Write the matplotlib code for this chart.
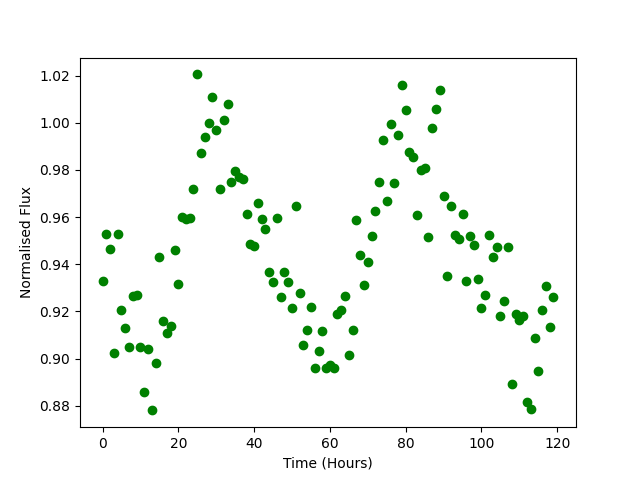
import matplotlib
matplotlib.use('Agg')
import matplotlib.pyplot as plt
import numpy as np

# hourly flux readings
time_hours = np.arange(120)
flux = [
    0.933, 0.953, 0.9465, 0.9025, 0.953, 0.9205, 0.9129, 0.905, 0.9265, 0.927,
    0.905, 0.886, 0.904, 0.878, 0.898, 0.943, 0.9159, 0.911, 0.914, 0.946,
    0.9315, 0.960, 0.959, 0.9595, 0.972, 1.0205, 0.987, 0.994, 1.000, 1.011,
    0.997, 0.972, 1.001, 1.008, 0.975, 0.9795, 0.977, 0.976, 0.9615, 0.9485,
    0.9477, 0.966, 0.959, 0.955, 0.9365, 0.9325, 0.9595, 0.926, 0.9367, 0.9325,
    0.9215, 0.9645, 0.928, 0.9057, 0.912, 0.922, 0.896, 0.903, 0.9117, 0.896,
    0.8973, 0.896, 0.919, 0.9206, 0.9265, 0.9016, 0.912, 0.9587, 0.944, 0.9312,
    0.941, 0.9519, 0.9625, 0.9747, 0.9925, 0.967, 0.9993, 0.9743, 0.995, 1.0158,
    1.0052, 0.9874, 0.9853, 0.9608, 0.980, 0.9807, 0.9515, 0.9976, 1.006, 1.0137,
    0.969, 0.935, 0.9646, 0.9523, 0.9506, 0.9612, 0.9329, 0.952, 0.948, 0.9337,
    0.9214, 0.927, 0.9523, 0.943, 0.9472, 0.918, 0.9244, 0.9472, 0.8893, 0.919,
    0.9164, 0.918, 0.8817, 0.8787, 0.9087, 0.8948, 0.9206, 0.9307, 0.9134, 0.926,
]

plt.figure(figsize=(6.4, 4.8), dpi=100)
plt.plot(time_hours, flux, 'o', color='green')
plt.xlabel('Time (Hours)')
plt.ylabel('Normalised Flux')

plt.savefig('out.png')
